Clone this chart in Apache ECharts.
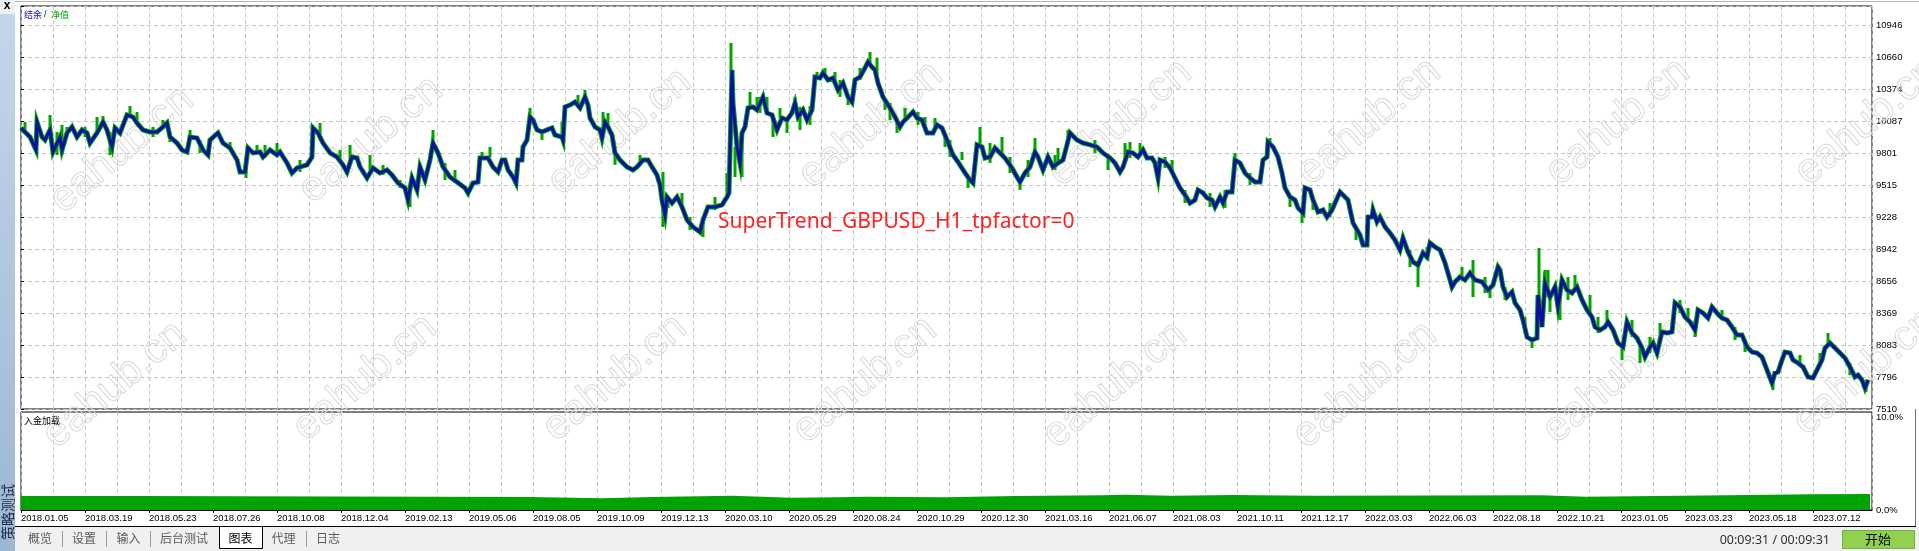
<!DOCTYPE html>
<html>
<head>
<meta charset="utf-8">
<title>SuperTrend_GBPUSD_H1 策略测试</title>
<script src="https://cdn.jsdelivr.net/npm/echarts@6.0.0/dist/echarts.min.js"></script>
<style>
  html, body { margin: 0; padding: 0; background: #fff; }
  #main { width: 1919px; height: 551px; }
</style>
</head>
<body>
<div id="main"></div>
<script>
// x = position along the test (0 .. 1851), labels every 64 steps
const dateLabels = ['2018.01.05','2018.03.19','2018.05.23','2018.07.26','2018.10.08','2018.12.04',
  '2019.02.13','2019.05.06','2019.08.05','2019.10.09','2019.12.13','2020.03.10','2020.05.29',
  '2020.08.24','2020.10.29','2020.12.30','2021.03.16','2021.06.07','2021.08.03','2021.10.11',
  '2021.12.17','2022.03.03','2022.06.03','2022.08.18','2022.10.21','2023.01.05','2023.03.23',
  '2023.05.18','2023.07.12'];
const yTickLabels = ['7510','7796','8083','8369','8656','8942','9228','9515','9801','10087','10374','10660','10946'];
const loadTickLabels = ['0.0%', '10.0%'];

// 结余 (balance) [x, value]
const balance = [[0,10025],[2,10034],[9,9944],[15,9828],[16,10078],[21,9944],[24,9917],[29,10007],[32,9810],[39,9944],[41,9828],[46,9980],[51,10034],[56,9944],[61,10007],[66,9980],[69,9890],[76,9980],[82,10078],[86,10007],[91,9855],[94,10025],[99,9980],[106,10141],[112,10123],[116,10069],[122,10007],[129,9989],[136,9989],[142,10034],[146,10069],[149,9944],[156,9890],[161,9828],[166,9810],[169,9944],[176,9935],[182,9828],[187,9783],[189,9917],[197,9980],[202,9890],[209,9846],[216,9738],[219,9631],[224,9631],[227,9846],[232,9801],[239,9810],[242,9765],[249,9828],[256,9783],[259,9810],[266,9711],[271,9622],[276,9667],[286,9694],[291,9765],[292,10025],[297,9980],[302,9890],[309,9801],[316,9765],[322,9694],[326,9631],[331,9765],[336,9756],[339,9676],[346,9577],[352,9667],[359,9622],[366,9649],[371,9604],[377,9532],[384,9488],[387,9380],[391,9577],[396,9470],[399,9676],[404,9559],[409,9738],[412,9890],[417,9801],[422,9676],[429,9586],[436,9541],[444,9488],[447,9443],[452,9532],[457,9541],[459,9756],[467,9756],[472,9676],[477,9631],[481,9738],[484,9738],[487,9649],[492,9586],[495,9532],[497,9738],[501,9738],[502,9855],[506,9917],[509,10123],[512,10096],[516,10007],[521,9989],[526,10007],[531,10025],[534,9962],[541,9944],[542,9917],[544,10213],[549,10230],[554,10257],[559,10204],[564,10302],[567,10230],[569,10114],[574,10034],[579,10007],[581,9935],[584,10078],[587,10034],[591,9962],[594,9801],[599,9738],[606,9676],[612,9649],[616,9676],[622,9738],[627,9738],[631,9676],[636,9604],[639,9515],[641,9380],[644,9246],[646,9407],[651,9353],[656,9407],[661,9318],[666,9201],[672,9139],[679,9094],[682,9201],[687,9318],[694,9318],[701,9336],[706,9407],[708,9443],[711,10544],[712,10248],[716,9855],[719,9711],[721,9980],[724,10034],[727,10204],[732,10213],[736,10186],[742,10302],[746,10159],[751,10141],[756,10007],[761,10114],[766,10096],[771,10159],[774,10248],[777,10123],[782,10186],[786,10096],[791,10186],[794,10481],[799,10472],[802,10517],[807,10454],[812,10472],[817,10365],[822,10427],[827,10302],[831,10257],[834,10454],[839,10481],[844,10562],[847,10615],[851,10570],[854,10544],[857,10427],[862,10302],[869,10204],[874,10123],[879,10034],[882,10078],[887,10123],[892,10168],[896,10114],[901,10096],[906,9980],[912,9980],[916,10052],[921,10025],[926,9917],[932,9783],[937,9720],[944,9622],[949,9559],[952,9532],[956,9873],[961,9855],[964,9756],[969,9765],[974,9846],[979,9801],[984,9756],[991,9667],[996,9586],[999,9541],[1004,9622],[1009,9676],[1014,9810],[1017,9765],[1022,9649],[1027,9765],[1032,9676],[1037,9711],[1042,9738],[1046,9873],[1049,9980],[1056,9917],[1062,9890],[1069,9873],[1076,9855],[1082,9801],[1089,9756],[1094,9711],[1099,9631],[1102,9676],[1107,9810],[1112,9801],[1117,9765],[1122,9828],[1126,9756],[1131,9756],[1134,9711],[1137,9577],[1139,9738],[1144,9720],[1149,9667],[1154,9577],[1159,9488],[1164,9425],[1169,9353],[1174,9380],[1177,9470],[1182,9443],[1186,9398],[1191,9380],[1194,9318],[1199,9407],[1202,9353],[1206,9452],[1211,9452],[1214,9738],[1219,9711],[1224,9622],[1229,9577],[1234,9541],[1239,9541],[1242,9738],[1246,9765],[1247,9899],[1252,9855],[1257,9765],[1261,9622],[1264,9488],[1269,9407],[1274,9380],[1277,9309],[1282,9264],[1284,9488],[1289,9470],[1292,9380],[1297,9273],[1302,9291],[1306,9228],[1311,9291],[1314,9353],[1319,9452],[1324,9407],[1327,9380],[1332,9175],[1339,9067],[1342,8978],[1346,8978],[1347,9228],[1351,9228],[1352,9291],[1356,9184],[1359,9228],[1364,9139],[1369,9085],[1374,9022],[1379,8933],[1382,9040],[1387,8915],[1392,8826],[1397,8798],[1402,8906],[1406,8870],[1409,8996],[1414,8960],[1419,8933],[1424,8817],[1427,8727],[1431,8602],[1434,8647],[1439,8691],[1444,8664],[1449,8727],[1454,8664],[1461,8647],[1467,8575],[1472,8620],[1477,8781],[1479,8754],[1482,8602],[1486,8512],[1491,8557],[1494,8459],[1499,8396],[1502,8306],[1506,8154],[1511,8127],[1516,8145],[1517,8530],[1521,8244],[1524,8638],[1529,8512],[1534,8602],[1537,8423],[1541,8664],[1546,8575],[1551,8548],[1556,8602],[1561,8486],[1566,8396],[1571,8333],[1574,8244],[1579,8217],[1584,8244],[1587,8289],[1592,8217],[1597,8101],[1602,8065],[1606,8289],[1611,8190],[1616,8145],[1621,8056],[1624,7975],[1629,8065],[1632,8101],[1636,8011],[1641,8199],[1646,8190],[1651,8199],[1654,8459],[1659,8423],[1664,8333],[1669,8289],[1674,8217],[1677,8396],[1682,8369],[1687,8324],[1691,8423],[1696,8369],[1701,8324],[1706,8306],[1711,8244],[1716,8172],[1721,8172],[1726,8065],[1731,8020],[1736,8011],[1741,7975],[1746,7859],[1751,7743],[1754,7832],[1757,7841],[1761,7949],[1764,8020],[1769,8011],[1772,7949],[1777,7922],[1782,7886],[1787,7797],[1792,7788],[1797,7877],[1801,7949],[1804,8056],[1809,8101],[1814,8056],[1819,8011],[1824,7966],[1829,7886],[1834,7797],[1837,7814],[1841,7770],[1844,7698],[1847,7770]];

// 净值 (equity) swings away from balance: [x, low, high]
const equitySwings = [[4,9989,10078],[29,10007,10141],[36,9783,9989],[41,9783,10052],[46,9980,10034],[64,9944,10034],[76,9980,10123],[82,10078,10132],[89,9783,9989],[109,10141,10221],[116,10069,10168],[132,9944,10034],[142,10034,10096],[149,9899,9989],[169,9944,10007],[179,9801,9917],[209,9828,9899],[225,9577,9694],[236,9810,9873],[244,9756,9873],[256,9783,9890],[279,9631,9738],[299,9917,10069],[319,9738,9828],[329,9738,9873],[349,9649,9783],[362,9604,9694],[379,9488,9559],[389,9318,9515],[412,9890,10007],[424,9559,9711],[434,9532,9649],[461,9756,9810],[469,9765,9855],[509,10123,10204],[521,9917,9989],[541,9944,10078],[557,10239,10320],[564,10302,10365],[582,10007,10168],[587,10034,10159],[594,9694,9801],[619,9694,9783],[642,9139,9631],[647,9309,9407],[661,9336,9443],[669,9112,9228],[682,9049,9201],[694,9291,9407],[706,9407,9622],[710,10544,10785],[714,9586,9855],[721,9586,9980],[729,10213,10347],[736,10186,10302],[739,10159,10302],[746,10159,10302],[752,9944,10141],[759,10114,10204],[766,9980,10096],[774,10248,10302],[779,10007,10213],[789,10052,10221],[796,10472,10526],[804,10499,10562],[814,10454,10526],[819,10302,10454],[827,10230,10302],[839,10454,10562],[849,10588,10705],[856,10499,10651],[864,10186,10275],[869,10096,10248],[876,9980,10096],[884,10096,10204],[897,10052,10168],[904,10052,10123],[914,10007,10114],[924,9855,9944],[929,9765,9917],[941,9738,9810],[947,9488,9577],[959,9864,10034],[969,9711,9890],[981,9783,9944],[989,9622,9765],[999,9470,9541],[1007,9586,9738],[1014,9810,9935],[1034,9649,9783],[1037,9711,9846],[1047,9917,10007],[1074,9801,9917],[1087,9649,9765],[1104,9738,9890],[1109,9756,9899],[1119,9810,9890],[1144,9667,9765],[1151,9631,9738],[1164,9353,9470],[1189,9318,9443],[1204,9309,9470],[1214,9720,9801],[1229,9515,9622],[1249,9873,9935],[1269,9318,9425],[1281,9175,9264],[1292,9291,9407],[1309,9228,9353],[1335,9022,9139],[1389,8781,8933],[1397,8602,8817],[1406,8843,8960],[1441,8691,8781],[1452,8512,8843],[1464,8548,8691],[1469,8503,8593],[1484,8486,8602],[1504,8190,8333],[1511,8056,8127],[1518,8486,8951],[1524,8638,8754],[1527,8512,8754],[1529,8378,8512],[1539,8306,8575],[1547,8486,8691],[1554,8575,8709],[1569,8369,8530],[1577,8190,8333],[1586,8280,8396],[1601,7949,8083],[1611,8154,8306],[1619,7922,8083],[1629,8011,8154],[1639,8172,8280],[1659,8369,8486],[1667,8306,8414],[1674,8154,8306],[1701,8324,8396],[1714,8127,8244],[1724,8020,8127],[1752,7680,7770],[1779,7904,7993],[1799,7886,8011],[1807,8083,8190],[1829,7814,7922],[1845,7662,7725]];

// 入金加载 (%) [x, value]
const depositLoad = [[0,1.43],[114,1.33],[509,1.19],[581,1.33],[631,1.46],[711,1.26],[770,1.30],[817,1.36],[845,1.30],[925,1.43],[994,1.50],[1080,1.56],[1105,1.46],[1150,1.53],[1213,1.46],[1292,1.50],[1520,1.36],[1565,1.53],[1728,1.60],[1790,1.63],[1849,1.63]];

const tabNames = ['概览','设置','输入','后台测试','图表','代理','日志'];

const X_MAX = 1851;
const Y_MIN = 7510, Y_STEP = 286.33, Y_MAX = 11116;
const BLUE = '#0c0ca8', GREEN = '#00a300';
const GRIDLINE = { color: '#c6c6c6', type: [4, 3], width: 1 };
const LABEL_FONT = { fontFamily: 'Liberation Sans', fontSize: 9.5, color: '#000' };

const chart = echarts.init(document.getElementById('main'));

// decorative window parts
const graphics = [];
const wm = [[122,150],[371,140],[620,132],[871,125],[1120,123],[1369,122],[1618,122],[1867,122],
            [115,385],[365,378],[615,378],[865,380],[1115,385],[1365,385],[1615,380],[1865,372]];
wm.forEach(p => graphics.push({
  type: 'text', x: p[0], y: p[1], rotation: 0.7, z: 1, silent: true,
  style: { text: 'eahub.cn', align: 'center', verticalAlign: 'middle', fontSize: 42,
    fontFamily: 'Liberation Sans', fill: 'rgba(0,0,0,0)', stroke: '#dadada', lineWidth: 1 }
}));
graphics.push(
  { type: 'line', z: 100, shape: { x1: 15, y1: 1.5, x2: 1919, y2: 1.5 }, style: { stroke: '#b4b4b4' } },
  { type: 'rect', z: 100, shape: { x: 0, y: 0, width: 15, height: 14 }, style: { fill: '#f0f0f0' } },
  { type: 'text', z: 101, x: 7, y: 6, style: { text: 'x', align: 'center', verticalAlign: 'middle',
      fontSize: 12, fontWeight: 'bold', fontFamily: 'Liberation Sans', fill: '#000' } },
  { type: 'rect', z: 100, shape: { x: 0, y: 14, width: 15, height: 537 },
    style: { fill: new echarts.graphic.LinearGradient(0, 0, 0, 1, [
      { offset: 0, color: '#c4d6ea' }, { offset: 1, color: '#9cb6d4' }]) } },
  { type: 'text', z: 101, x: 7.5, y: 512, rotation: Math.PI / 2,
    style: { text: '策略测试', align: 'center', verticalAlign: 'middle', fontSize: 14,
      fontFamily: 'Noto Sans CJK SC', fill: '#1c2a4c' } },
  { type: 'text', z: 100, x: 24, y: 15, style: { text: '结余', verticalAlign: 'middle', fontSize: 9,
      fontFamily: 'Noto Sans CJK SC', fill: '#1010c0' } },
  { type: 'text', z: 100, x: 44, y: 15, style: { text: '/', verticalAlign: 'middle', fontSize: 9,
      fontFamily: 'Liberation Sans', fill: '#101060' } },
  { type: 'text', z: 100, x: 51, y: 15, style: { text: '净值', verticalAlign: 'middle', fontSize: 9,
      fontFamily: 'Noto Sans CJK SC', fill: GREEN } },
  { type: 'text', z: 100, x: 24, y: 421, style: { text: '入金加载', verticalAlign: 'middle', fontSize: 9,
      fontFamily: 'Noto Sans CJK SC', fill: '#000' } },
  { type: 'text', z: 100, x: 718, y: 222, style: { text: 'SuperTrend_GBPUSD_H1_tpfactor=0',
      verticalAlign: 'middle', fontSize: 21, fontFamily: 'Noto Sans', fill: '#ff2222' } },
  { type: 'line', z: 100, shape: { x1: 1915.5, y1: 409, x2: 1915.5, y2: 527 }, style: { stroke: '#707070' } },
  { type: 'rect', z: 100, shape: { x: 15, y: 527, width: 1904, height: 24 }, style: { fill: '#f0f0f0' } },
  { type: 'rect', z: 101, shape: { x: 219.5, y: 526.5, width: 43, height: 22 }, style: { fill: '#fff', stroke: '#000' } },
  { type: 'line', z: 102, shape: { x1: 15, y1: 526.5, x2: 219.5, y2: 526.5 }, style: { stroke: '#000' } },
  { type: 'line', z: 102, shape: { x1: 262.5, y1: 526.5, x2: 1916, y2: 526.5 }, style: { stroke: '#000' } },
  { type: 'text', z: 101, x: 1830, y: 540, style: { text: '00:09:31 / 00:09:31', align: 'right',
      verticalAlign: 'middle', fontSize: 12.5, fontFamily: 'Noto Sans', fill: '#303030' } },
  { type: 'rect', z: 101, shape: { x: 1842.5, y: 530.5, width: 72, height: 18 },
    style: { fill: '#92d050', stroke: '#73b040' } },
  { type: 'text', z: 102, x: 1878, y: 539.5, style: { text: '开始', align: 'center', verticalAlign: 'middle',
      fontSize: 13, fontFamily: 'Noto Sans CJK SC', fill: '#000' } }
);
const tabX = [40, 84, 128.5, 184, 240.5, 283.5, 328];
tabNames.forEach((t, i) => graphics.push({
  type: 'text', z: 103, x: tabX[i], y: 538,
  style: { text: t, align: 'center', verticalAlign: 'middle', fontSize: 12,
    fontFamily: 'Noto Sans CJK SC', fill: t === '图表' ? '#000' : '#5a5a5a' }
}));
[62, 106, 150, 306].forEach(x => graphics.push({
  type: 'line', z: 103, shape: { x1: x + 0.5, y1: 531, x2: x + 0.5, y2: 547 }, style: { stroke: '#9a9a9a' }
}));

const option = {
  animation: false,
  backgroundColor: '#fff',
  textStyle: { fontFamily: 'Liberation Sans' },
  graphic: graphics,
  grid: [
    { left: 21, right: 47, top: 6, height: 403, show: true, borderColor: '#000', borderWidth: 1 },
    { left: 21, right: 47, top: 412, height: 98, show: true, borderColor: '#000', borderWidth: 1 }
  ],
  xAxis: [
    { gridIndex: 0, type: 'value', min: 0, max: X_MAX, interval: 32,
      axisLine: { show: false }, axisTick: { show: false }, axisLabel: { show: false },
      splitLine: { show: true, lineStyle: GRIDLINE } },
    { gridIndex: 1, type: 'value', min: 0, max: X_MAX, interval: 32,
      axisLine: { show: false }, axisTick: { show: false }, axisLabel: { show: false },
      splitLine: { show: true, lineStyle: GRIDLINE } },
    { gridIndex: 1, type: 'value', min: 0, max: X_MAX, interval: 64, position: 'bottom',
      axisLine: { show: true, lineStyle: { color: '#000' } },
      axisTick: { show: true, length: 3, lineStyle: { color: '#000' } },
      splitLine: { show: false },
      axisLabel: Object.assign({ align: 'left', margin: 3, showMaxLabel: false,
        formatter: v => dateLabels[v / 64] || '' }, LABEL_FONT) }
  ],
  yAxis: [
    { gridIndex: 0, type: 'value', position: 'right', min: Y_MIN, max: Y_MAX, interval: Y_STEP,
      axisLine: { show: false },
      axisTick: { show: true, length: 3, lineStyle: { color: '#000' } },
      splitLine: { show: true, lineStyle: GRIDLINE },
      axisLabel: Object.assign({ margin: 4,
        formatter: v => yTickLabels[Math.round((v - Y_MIN) / Y_STEP)] || '' }, LABEL_FONT) },
    { gridIndex: 1, type: 'value', position: 'right', min: 0, max: 10, interval: 10,
      axisLine: { show: false }, axisTick: { show: false }, splitLine: { show: false },
      axisLabel: Object.assign({ margin: 4,
        formatter: v => v === 0 ? loadTickLabels[0] : '{t|' + loadTickLabels[1] + '}',
        rich: { t: Object.assign({ padding: [10, 0, 0, 0] }, LABEL_FONT) } }, LABEL_FONT) }
  ],
  series: [
    { // equity hugging the balance line
      name: '净值', type: 'line', xAxisIndex: 0, yAxisIndex: 0, data: balance,
      symbol: 'none', z: 2, lineStyle: { color: GREEN, width: 5, join: 'miter' } },
    { // equity swings
      name: '净值波动', type: 'custom', xAxisIndex: 0, yAxisIndex: 0, data: equitySwings, z: 3,
      encode: { x: 0, y: [1, 2] },
      renderItem: (params, api) => {
        const lo = api.coord([api.value(0), api.value(1)]);
        const hi = api.coord([api.value(0), api.value(2)]);
        return { type: 'rect', shape: { x: lo[0] - 1.5, y: hi[1], width: 3, height: lo[1] - hi[1] },
          style: { fill: GREEN } };
      } },
    { name: '结余', type: 'line', xAxisIndex: 0, yAxisIndex: 0, data: balance,
      symbol: 'none', z: 4, lineStyle: { color: BLUE, width: 3, join: 'miter' } },
    { name: '入金加载', type: 'line', xAxisIndex: 1, yAxisIndex: 1, data: depositLoad,
      step: 'end', symbol: 'none', lineStyle: { width: 0 },
      areaStyle: { color: GREEN, opacity: 1 } }
  ]
};
chart.setOption(option);
</script>
</body>
</html>
